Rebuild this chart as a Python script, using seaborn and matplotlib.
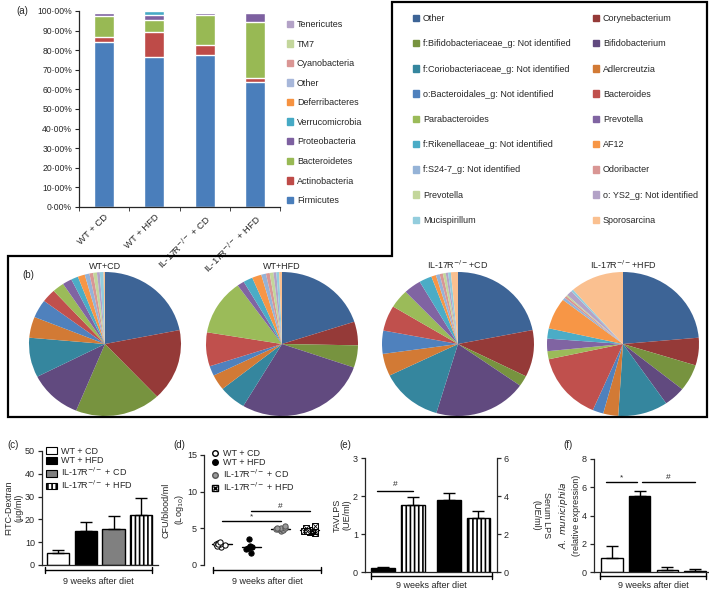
import numpy as np
import pandas as pd
import matplotlib
matplotlib.use('Agg')
import matplotlib.pyplot as plt
from matplotlib.patches import Patch, Polygon
from matplotlib.lines import Line2D
import seaborn as sns

# ---------------- data ----------------
# (a) phylum level relative abundance (%)
groups_a = ['WT + CD', 'WT + HFD', 'IL-17R$^{-/-}$ + CD', 'IL-17R$^{-/-}$ + HFD']
phyla = ['Firmicutes', 'Actinobacteria', 'Bacteroidetes', 'Proteobacteria', 'Verrucomicrobia',
         'Deferribacteres', 'Other', 'Cyanobacteria', 'TM7', 'Tenericutes']
firmicutes = [84.2, 76.3, 77.8, 63.6]
actinobacteria = [2.6, 12.9, 4.6, 2.0]
bacteroidetes = [10.7, 6.1, 15.7, 28.7]
proteobacteria = [1.7, 2.5, 1.1, 4.8]
verrucomicrobia = [0.3, 2.0, 0.4, 0.1]
deferribacteres = [0.1, 0.05, 0.1, 0.1]
other_phyla = [0.2, 0.05, 0.1, 0.1]
cyanobacteria = [0.1, 0.05, 0.1, 0.5]
tm7 = [0.05, 0.03, 0.05, 0.05]
tenericutes = [0.05, 0.02, 0.05, 0.05]

# (b) genus level pies
genera = ['Other', 'Corynebacterium', 'f:Bifidobacteriaceae_g: Not identified', 'Bifidobacterium',
          'f:Coriobacteriaceae_g: Not identified', 'Adlercreutzia', 'o:Bacteroidales_g: Not identified',
          'Bacteroides', 'Parabacteroides', 'Prevotella', 'f:Rikenellaceae_g: Not identified', 'AF12',
          'f:S24-7_g: Not identified', 'Odoribacter', 'Prevotella', 'o: YS2_g: Not identified',
          'Mucispirillum', 'Sporosarcina']
pie_titles = ['WT+CD', 'WT+HFD', 'IL-17R$^{-/-}$+CD', 'IL-17R$^{-/-}$+HFD']
pie_wt_cd = [21.9, 16.1, 18.2, 11.3, 8.9, 4.7, 4.1, 3.0, 2.5, 2.0, 1.5, 1.5, 1.0, 0.8, 0.8, 0.6, 0.8, 0.3]
pie_wt_hfd = [20.0, 5.3, 5.0, 28.2, 5.8, 3.5, 2.2, 7.6, 12.5, 1.5, 2.0, 2.0, 1.0, 0.8, 0.8, 0.6, 0.6, 0.6]
pie_il_cd = [21.9, 10.5, 2.4, 19.8, 13.2, 5.0, 5.2, 5.7, 4.2, 3.7, 2.7, 1.0, 0.8, 0.7, 0.6, 0.5, 0.6, 1.5]
pie_il_hfd = [23.6, 6.2, 6.0, 4.6, 10.6, 3.2, 2.3, 15.1, 1.8, 2.8, 2.3, 7.0, 0.6, 0.5, 0.3, 1.2, 0.5, 11.4]

# (c)-(f)
groups = ['WT + CD', 'WT + HFD', 'IL-17R$^{-/-}$ + CD', 'IL-17R$^{-/-}$ + HFD']
fitc_mean = [5.1, 15.0, 15.6, 21.9]
fitc_err = [1.5, 4.0, 5.8, 7.3]

cfu_wt_cd = [2.5, 2.7, 2.8, 2.9, 3.0, 2.6, 2.8, 3.1]
cfu_wt_hfd = [1.7, 2.2, 2.4, 2.5, 2.6, 3.6, 2.3]
cfu_il_cd = [4.6, 4.8, 4.9, 5.0, 5.1, 5.3, 4.9, 5.0]
cfu_il_hfd = [4.3, 4.5, 4.6, 4.7, 4.8, 5.0, 5.3, 4.6, 4.7]

tav_lps = [0.10, 1.77]
tav_err = [0.02, 0.20]
serum_lps = [3.77, 2.84]
serum_err = [0.38, 0.38]

akk = [1.0, 5.35, 0.15, 0.06]
akk_err = [0.85, 0.35, 0.20, 0.13]

# ---------------- style ----------------
sns.set_style('ticks')
plt.rcParams['font.family'] = ['Liberation Sans', 'DejaVu Sans']
plt.rcParams['mathtext.fontset'] = 'dejavusans'
plt.rcParams['hatch.linewidth'] = 1.2
plt.rcParams['axes.linewidth'] = 0.9

phylum_colors = ['#4A7EBB', '#BE4B48', '#98B954', '#7D60A0', '#46AAC5',
                 '#F69240', '#A7B7DA', '#DA9694', '#C3D69B', '#B3A2C7']
genus_colors = ['#3D6496', '#953A38', '#77933F', '#614A7F', '#35869E', '#D27A35',
                '#4F81BD', '#C0504D', '#9BBB59', '#8064A2', '#4BACC6', '#F79646',
                '#95B3D7', '#D99694', '#C3D69B', '#B3A2C7', '#93CDDD', '#FAC090']

W, H = 709, 593
fig = plt.figure(figsize=(W / 100, H / 100), dpi=100)


def px(x0, y0, x1, y1):
    return [x0 / W, 1 - y1 / H, (x1 - x0) / W, (y1 - y0) / H]


def fpt(x, y):
    return (x / W, 1 - y / H)


def bracket(x0, x1, y, label, ly):
    fig.add_artist(Line2D([x0 / W, x1 / W], [1 - y / H] * 2, color='black', lw=1))
    for xx in (x0, x1):
        fig.add_artist(Line2D([xx / W] * 2, [1 - (y - 3) / H, 1 - (y + 3) / H], color='black', lw=1))
    fig.text((x0 + x1) / 2 / W, 1 - ly / H, label, ha='center', va='center', fontsize=6.5)


# ---------------- (a) stacked bars ----------------
ax = fig.add_axes(px(79, 11, 280, 207))
layers = np.array([firmicutes, actinobacteria, bacteroidetes, proteobacteria, verrucomicrobia,
                   deferribacteres, other_phyla, cyanobacteria, tm7, tenericutes])
cum = np.cumsum(layers, axis=0)
for k in range(len(phyla) - 1, -1, -1):
    sns.barplot(x=groups_a, y=cum[k], color=phylum_colors[k], width=0.4, saturation=1,
                errorbar=None, ax=ax)
ax.set_xlim(-0.5, 3.5)
ax.set_ylim(0, 100)
ax.set_yticks(np.arange(0, 101, 10))
ax.set_yticklabels([f'{v}·00%' for v in range(0, 101, 10)], fontsize=6.2)
ax.set_xticks(range(4))
ax.set_xticklabels(groups_a, rotation=45, ha='right', va='top', rotation_mode='anchor', fontsize=6.8)
ax.set_xticks(np.arange(-0.5, 3.6, 1), minor=True)
ax.tick_params(axis='x', which='major', length=0, pad=4)
ax.tick_params(axis='x', which='minor', length=3)
ax.tick_params(axis='y', length=3, pad=2)
ax.set_xlabel('')
ax.set_ylabel('')
sns.despine(ax=ax)
fig.text(*fpt(22, 11), '(a)', ha='center', va='center', fontsize=7)

leg_a = [Patch(color=c) for c in phylum_colors][::-1]
fig.legend(leg_a, phyla[::-1], loc='upper left', bbox_to_anchor=fpt(287, 20), frameon=False,
           fontsize=6.5, handlelength=0.7, handleheight=0.7, handletextpad=0.4,
           labelspacing=1.17, borderpad=0, borderaxespad=0)

# ---------------- big legend ----------------
gh = [Patch(color=c) for c in genus_colors]
fig.legend(gh[0::2], genera[0::2], loc='upper left', bbox_to_anchor=fpt(413, 14), frameon=False,
           fontsize=6.5, handlelength=0.7, handleheight=0.7, handletextpad=0.4,
           labelspacing=1.8, borderpad=0, borderaxespad=0)
fig.legend(gh[1::2], genera[1::2], loc='upper left', bbox_to_anchor=fpt(593, 14), frameon=False,
           fontsize=6.5, handlelength=0.7, handleheight=0.7, handletextpad=0.4,
           labelspacing=1.8, borderpad=0, borderaxespad=0)

outline = [(8, 256), (392, 256), (392, 2), (707, 2), (707, 417), (8, 417)]
fig.add_artist(Polygon([fpt(x, y) for x, y in outline], closed=True, fill=False,
                       edgecolor='black', lw=1.6, transform=fig.transFigure))

# ---------------- (b) pies ----------------
pie_sets = [pie_wt_cd, pie_wt_hfd, pie_il_cd, pie_il_hfd]
centers = [(105, 344), (282, 344), (458, 344), (623, 344)]
for vals, title, (cx, cy) in zip(pie_sets, pie_titles, centers):
    pax = fig.add_axes(px(cx - 76, cy - 72, cx + 76, cy + 72))
    pax.pie(vals, colors=genus_colors, startangle=90, counterclock=False,
            wedgeprops=dict(linewidth=0))
    pax.set_aspect('auto')
    pax.set_xlim(-1, 1)
    pax.set_ylim(-1, 1)
    pax.set_title(title, fontsize=6.5, pad=2)
fig.text(*fpt(28, 275), '(b)', ha='center', va='center', fontsize=7)

lowfs = 6.5


def style_low(a):
    a.tick_params(axis='y', length=3, width=0.9, labelsize=lowfs, pad=2)
    a.tick_params(axis='x', length=0)
    a.set_xticks([])
    a.set_xlabel('')


# ---------------- (c) FITC-Dextran ----------------
ax = fig.add_axes(px(42, 451, 158, 565))
fills = ['white', 'black', '#808080', 'white']
sns.barplot(x=groups, y=fitc_mean, hue=groups, palette=fills, edgecolor='black', linewidth=1,
            width=0.8, saturation=1, errorbar=None, legend=False, ax=ax)
ax.patches[3].set_hatch('||||')
ax.errorbar(range(4), fitc_mean, yerr=[np.zeros(4), fitc_err], fmt='none', ecolor='black',
            elinewidth=1, capsize=4, capthick=1)
ax.set_xlim(-0.58, 3.6)
ax.set_ylim(0, 50)
ax.set_yticks([0, 10, 20, 30, 40, 50])
style_low(ax)
sns.despine(ax=ax)
ax.set_ylabel('FITC-Dextran\n(µg/ml)', fontsize=lowfs, labelpad=1)
legc = [Patch(facecolor=f, edgecolor='black', lw=0.8) for f in fills]
legc[3].set_hatch('||||')
ax.legend(legc, groups, loc='upper left', bbox_to_anchor=fpt(46, 447), bbox_transform=fig.transFigure,
          frameon=False, fontsize=lowfs, handlelength=1.2, handleheight=0.8, handletextpad=0.5,
          labelspacing=0.05, borderpad=0, borderaxespad=0)
bracket(45, 152, 570, '9 weeks after diet', 581)
fig.text(*fpt(13, 445), '(c)', ha='center', va='center', fontsize=7)

# ---------------- (d) CFU ----------------
ax = fig.add_axes(px(204, 455, 325, 565))
df_d = pd.DataFrame({
    'group': [groups[0]] * len(cfu_wt_cd) + [groups[1]] * len(cfu_wt_hfd)
    + [groups[2]] * len(cfu_il_cd) + [groups[3]] * len(cfu_il_hfd),
    'cfu': cfu_wt_cd + cfu_wt_hfd + cfu_il_cd + cfu_il_hfd})
styles = [dict(color='white', marker='o', edgecolor='black', linewidth=0.7),
          dict(color='black', marker='o', edgecolor='black', linewidth=0.7),
          dict(color='#9a9a9a', marker='o', edgecolor='#555555', linewidth=0.7),
          dict(color='white', marker='s', edgecolor='black', linewidth=0.7)]
for i, g in enumerate(groups):
    sub = df_d[df_d['group'] == g]
    np.random.seed(i + 1)
    sns.stripplot(data=sub, x='group', y='cfu', order=groups, size=3.8, jitter=0.2, ax=ax, **styles[i])
    if i == 3:
        np.random.seed(i + 1)
        sns.stripplot(data=sub, x='group', y='cfu', order=groups, size=3.2, jitter=0.2, ax=ax,
                      color='black', marker='x', linewidth=0.6)
    m = sub['cfu'].mean()
    ax.plot([i - 0.33, i + 0.33], [m, m], color='black', lw=1)
ax.plot([0, 2], [6.0, 6.0], color='black', lw=1)
ax.text(1, 6.1, '*', ha='center', va='bottom', fontsize=6)
ax.plot([1, 3], [7.3, 7.3], color='black', lw=1)
ax.text(2, 7.5, '#', ha='center', va='bottom', fontsize=6)
ax.set_xlim(-0.62, 3.52)
ax.set_ylim(0, 15)
ax.set_yticks([0, 5, 10, 15])
style_low(ax)
sns.despine(ax=ax, bottom=True)
ax.set_ylabel('CFU/blood/ml\n(Log$_{10}$)', fontsize=lowfs, labelpad=1)
legd = [Line2D([], [], ls='none', marker='o', mfc='white', mec='black', ms=4),
        Line2D([], [], ls='none', marker='o', mfc='black', mec='black', ms=4),
        Line2D([], [], ls='none', marker='o', mfc='#9a9a9a', mec='#555555', ms=4),
        (Line2D([], [], ls='none', marker='s', mfc='white', mec='black', ms=4),
         Line2D([], [], ls='none', marker='x', mec='black', ms=3.5))]
ax.legend(legd, groups, loc='upper left', bbox_to_anchor=fpt(211, 449), bbox_transform=fig.transFigure,
          frameon=False, fontsize=lowfs, handlelength=0.8, handletextpad=0.5,
          labelspacing=0.05, borderpad=0, borderaxespad=0)
bracket(213, 321, 570, '9 weeks after diet', 581)
fig.text(*fpt(179, 445), '(d)', ha='center', va='center', fontsize=7)

# ---------------- (e) LPS ----------------
ax = fig.add_axes(px(365, 458, 497, 572))
e_pos = [0, 1, 2.2, 3.17]
b1 = ax.bar(e_pos[:2], tav_lps, width=0.77, color=['black', 'white'], edgecolor='black', lw=1)
b1[1].set_hatch('||||')
ax.errorbar(e_pos[:2], tav_lps, yerr=[np.zeros(2), tav_err], fmt='none', ecolor='black',
            elinewidth=1, capsize=4, capthick=1)
ax2 = ax.twinx()
b2 = ax2.bar(e_pos[2:], serum_lps, width=0.77, color=['black', 'white'], edgecolor='black', lw=1)
b2[1].set_hatch('||||')
ax2.errorbar(e_pos[2:], serum_lps, yerr=[np.zeros(2), serum_err], fmt='none', ecolor='black',
             elinewidth=1, capsize=4, capthick=1)
ax.plot([-0.2, 1.0], [2.14, 2.14], color='black', lw=1)
ax.text(0.4, 2.2, '#', ha='center', va='bottom', fontsize=6)
ax.set_xlim(-0.6, 3.8)
ax.set_ylim(0, 3)
ax2.set_ylim(0, 6)
ax.set_yticks([0, 1, 2, 3])
ax2.set_yticks([0, 2, 4, 6])
style_low(ax)
ax2.tick_params(axis='y', length=3, width=0.9, labelsize=lowfs, pad=2)
ax.spines['top'].set_visible(False)
ax2.spines['top'].set_visible(False)
ax.spines['right'].set_visible(False)
ax2.spines['left'].set_visible(False)
ax2.spines['bottom'].set_visible(False)
ax.set_ylabel('TAVLPS\n(UE/ml)', fontsize=lowfs, labelpad=1)
ax2.set_ylabel('Serum LPS\n(UE/ml)', fontsize=lowfs, rotation=270, labelpad=30)
bracket(371, 492, 576, '9 weeks after diet', 586)
fig.text(*fpt(345, 445), '(e)', ha='center', va='center', fontsize=7)

# ---------------- (f) A. muciniphila ----------------
ax = fig.add_axes(px(594, 459, 708, 572))
fills_f = ['white', 'black', 'white', 'white']
sns.barplot(x=groups, y=akk, hue=groups, palette=fills_f, edgecolor='black', linewidth=1,
            width=0.78, saturation=1, errorbar=None, legend=False, ax=ax)
ax.errorbar(range(4), akk, yerr=[np.zeros(4), akk_err], fmt='none', ecolor='black',
            elinewidth=1, capsize=4, capthick=1)
ax.plot([-0.2, 0.9], [6.35, 6.35], color='black', lw=1)
ax.text(0.35, 6.45, '*', ha='center', va='bottom', fontsize=6)
ax.plot([1.1, 3.0], [6.35, 6.35], color='black', lw=1)
ax.text(2.05, 6.45, '#', ha='center', va='bottom', fontsize=6)
ax.set_xlim(-0.65, 3.47)
ax.set_ylim(0, 8)
ax.set_yticks([0, 2, 4, 6, 8])
style_low(ax)
sns.despine(ax=ax)
ax.set_ylabel('$\\it{A.\\ municiphila}$\n(relative expression)', fontsize=lowfs, labelpad=1)
bracket(600, 706, 576, '9 weeks after diet', 586)
fig.text(*fpt(568, 445), '(f)', ha='center', va='center', fontsize=7)

fig.savefig('out.png', dpi=100)
